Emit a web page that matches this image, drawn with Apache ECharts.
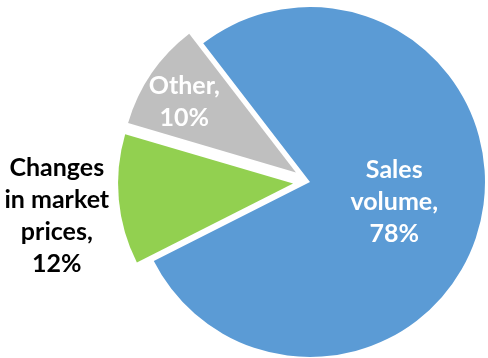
<!DOCTYPE html>
<html>
<head>
<meta charset="utf-8">
<script src="https://cdn.jsdelivr.net/npm/echarts@6/dist/echarts.min.js"></script>
<style>
  html, body { margin: 0; padding: 0; background: #ffffff; }
  #chart { width: 488px; height: 358px; }
</style>
</head>
<body>
<div id="chart"></div>
<script>
// Sources of change, share in percent
const categories = ['Sales volume', 'Changes in market prices', 'Other'];
const shares = [78, 12, 10];
const labelTexts = ['Sales\nvolume,\n78%', 'Changes\nin market\nprices,\n12%', 'Other,\n10%'];
const sliceColors = ['#5B9BD5', '#92D050', '#BFBFBF'];
const pulledOut = [false, true, true];

const fontFamily = 'Lato, "Open Sans", sans-serif';

const data = categories.map((name, i) => {
  const outside = i === 1;
  return {
    name: name,
    value: shares[i],
    selected: pulledOut[i],
    itemStyle: { color: sliceColors[i] },
    label: {
      position: outside ? 'outside' : 'inside',
      formatter: '{t|' + labelTexts[i].split('\n').join('}\n{t|') + '}',
      rich: {
        t: {
          fontFamily: fontFamily,
          fontWeight: 'bold',
          fontSize: 25,
          lineHeight: 32,
          color: outside ? '#000000' : '#ffffff',
          width: outside ? 112 : undefined,
          align: 'center'
        }
      }
    },
    labelLine: { show: false, length: 5, length2: 0 }
  };
});

const chart = echarts.init(document.getElementById('chart'), null, { renderer: 'canvas' });
chart.setOption({
  animation: false,
  series: [{
    type: 'pie',
    center: [310, 182],
    radius: 175,
    startAngle: 127.6,
    clockwise: true,
    selectedMode: 'multiple',
    selectedOffset: 17,
    avoidLabelOverlap: false,
    emphasis: { disabled: true },
    select: { itemStyle: { borderWidth: 0 }, label: { show: true } },
    data: data,
    labelLayout: function (params) {
      if (params.dataIndex === 1) return { dx: 4, dy: 16 };
      if (params.dataIndex === 2) return { dx: -37, dy: -19 };
      if (params.dataIndex === 0) return { dx: -4 };
      return {};
    }
  }]
});
</script>
</body>
</html>
